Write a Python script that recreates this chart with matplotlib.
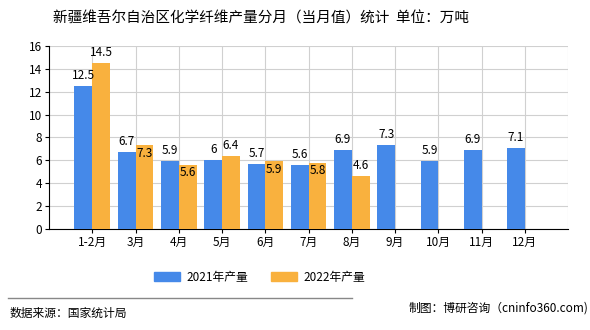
import matplotlib
matplotlib.use('Agg')
import matplotlib.pyplot as plt
from matplotlib.patches import Patch

plt.rcParams['font.family'] = ['Noto Sans CJK SC', 'DejaVu Sans']

months = ['1-2月', '3月', '4月', '5月', '6月', '7月', '8月', '9月', '10月', '11月', '12月']
prod_2021 = [12.5, 6.7, 5.9, 6, 5.7, 5.6, 6.9, 7.3, 5.9, 6.9, 7.1]
prod_2022 = [14.5, 7.3, 5.6, 6.4, 5.9, 5.8, 4.6]
# where the 2022 value labels sit: above the bar or just inside its top
label_2022_above = [True, False, False, True, False, False, True]

blue = '#4589e9'
orange = '#f9b13e'
w = 0.41

fig = plt.figure(figsize=(5.9, 3.3), dpi=100)
ax = fig.add_axes([0.083, 0.306, 0.880, 0.555])

x1 = list(range(len(prod_2021)))
x2 = list(range(len(prod_2022)))
ax.bar([i - w / 2 for i in x1], prod_2021, width=w, color=blue, zorder=3)
ax.bar([i + w / 2 for i in x2], prod_2022, width=w, color=orange, zorder=3)

for i, v in zip(x1, prod_2021):
    ax.text(i - w / 2, v + 0.35, f'{v:g}', ha='center', va='bottom', fontsize=8.5, zorder=4)
for i, v, above in zip(x2, prod_2022, label_2022_above):
    if above:
        ax.text(i + w / 2, v + 0.35, f'{v:g}', ha='center', va='bottom', fontsize=8.5, zorder=4)
    else:
        ax.text(i + w / 2, v - 0.1, f'{v:g}', ha='center', va='top', fontsize=8.5, zorder=4)

ax.set_xlim(-1, 11)
ax.set_ylim(0, 16)
ax.set_yticks(range(0, 17, 2))
ax.set_xticks(x1)
ax.set_xticklabels(months, fontsize=8.5)
ax.tick_params(axis='y', labelsize=8.5, length=3, pad=2)
ax.tick_params(axis='x', length=3, pad=2)
ax.grid(True, color='#d0d0d0', linewidth=0.8, zorder=0)
ax.set_axisbelow(True)
for s in ['top', 'right']:
    ax.spines[s].set_visible(False)
ax.spines['left'].set_color('black')
ax.spines['bottom'].set_color('black')
ax.axvline(11, color='#d0d0d0', linewidth=0.8, zorder=0)

fig.text(0.442, 0.945, '新疆维吾尔自治区化学纤维产量分月（当月值）统计  单位：万吨',
         ha='center', va='center', fontsize=10.5)

handles = [Patch(color=blue, label='2021年产量'), Patch(color=orange, label='2022年产量')]
fig.legend(handles=handles, loc='center', bbox_to_anchor=(0.44, 0.16), ncol=2,
           frameon=False, fontsize=8.5, handlelength=2.2, handleheight=0.8,
           columnspacing=2.0, handletextpad=0.5)

fig.add_artist(plt.Line2D([0.014, 0.597], [0.097, 0.097], color='#888888', linewidth=1))
fig.text(0.017, 0.05, '数据来源：国家统计局', ha='left', va='center', fontsize=8.5)
fig.text(0.997, 0.068, '制图：博研咨询（cninfo360.com)', ha='right', va='center', fontsize=8.5)

fig.savefig('out.png', dpi=100)
